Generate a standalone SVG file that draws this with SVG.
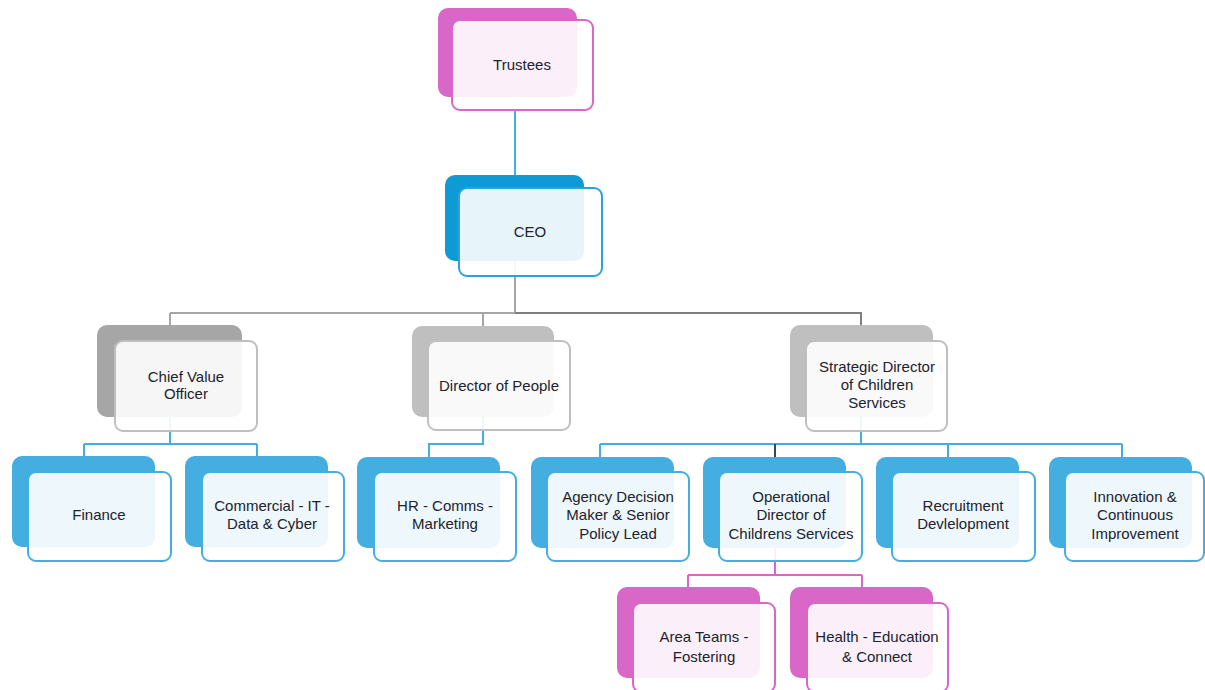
<svg xmlns="http://www.w3.org/2000/svg" width="1205" height="690" viewBox="0 0 1205 690">
<style>
.bg{fill:#ffffff}
.bk{stroke:none}
.fr{fill:#ffffff;fill-opacity:0.9;stroke-width:2}
.pink .bk{fill:#D867C8}
.pink .fr{stroke:#D867C8}
.ceo .bk{fill:#0E9BD5}
.ceo .fr{stroke:#2AA3DB}
.blue .bk{fill:#45AEE0}
.blue .fr{stroke:#45AEE0}
.grey .bk{fill:#BFBFBF}
.grey .fr{stroke:#BFBFBF}
.dgrey .bk{fill:#A6A6A6}
.dgrey .fr{stroke:#BFBFBF}
text{font-family:"Liberation Sans",Arial,sans-serif;font-size:15px;fill:#22222E;text-anchor:middle}
.c{fill:none;stroke-width:2}
.cb{stroke:#45AEE0}
.cg{stroke:#A6A6A6}
.cdg{stroke:#7F7F7F}
.cn{stroke:#2E4A63}
.cp{stroke:#D867C8}
</style>
<rect class="bg" x="0" y="0" width="1205" height="690"/>
<g id="connectors">
<path class="c cb" d="M515,110 V175"/>
<path class="c cg" d="M515,261 V313 M170,313 H515 M170,313 V325 M483,313 V326"/>
<path class="c cdg" d="M515,313 H861 V325"/>
<path class="c cb" d="M170,417 V444 M84,444 H257 M84,444 V456 M257,444 V456"/>
<path class="c cb" d="M483,417 V444 H429 V457"/>
<path class="c cb" d="M861,417 V444 M600,444 H1122 M600,444 V457 M948,444 V457 M1122,444 V457"/>
<path class="c cn" d="M775,444 V457"/>
<path class="c cp" d="M775,547 V575 M688,575 H862 M688,575 V587 M862,575 V587"/>
</g>
<g id="trustees" class="pink">
<rect class="bk" x="438" y="8" width="139" height="89" rx="10"/>
<rect class="fr" x="452" y="20" width="141" height="90" rx="8"/>
<text x="522" y="70">Trustees</text>
</g>
<g id="ceo" class="ceo">
<rect class="bk" x="445" y="175" width="139" height="86" rx="10"/>
<rect class="fr" x="459" y="188" width="143" height="88" rx="8"/>
<text x="530" y="237">CEO</text>
</g>
<g id="chief-value-officer" class="dgrey">
<rect class="bk" x="97" y="325" width="145" height="92" rx="10"/>
<rect class="fr" x="115" y="341" width="142" height="90" rx="8"/>
<text x="186" y="382">Chief Value</text>
<text x="186" y="399">Officer</text>
</g>
<g id="director-of-people" class="grey">
<rect class="bk" x="412" y="326" width="142" height="91" rx="10"/>
<rect class="fr" x="428" y="341" width="142" height="89" rx="8"/>
<text x="499" y="391">Director of People</text>
</g>
<g id="strategic-director" class="grey">
<rect class="bk" x="790" y="325" width="143" height="92" rx="10"/>
<rect class="fr" x="806" y="341" width="141" height="90" rx="8"/>
<text x="877" y="372">Strategic Director</text>
<text x="877" y="390">of Children</text>
<text x="877" y="408">Services</text>
</g>
<g id="finance" class="blue">
<rect class="bk" x="12" y="456" width="143" height="91" rx="10"/>
<rect class="fr" x="28" y="472" width="143" height="89" rx="8"/>
<text x="99" y="520">Finance</text>
</g>
<g id="commercial" class="blue">
<rect class="bk" x="185" y="456" width="143" height="91" rx="10"/>
<rect class="fr" x="202" y="472" width="142" height="89" rx="8"/>
<text x="272" y="511">Commercial - IT -</text>
<text x="272" y="529">Data &amp; Cyber</text>
</g>
<g id="hr" class="blue">
<rect class="bk" x="357" y="457" width="143" height="91" rx="10"/>
<rect class="fr" x="374" y="472" width="142" height="89" rx="8"/>
<text x="445" y="511">HR - Comms -</text>
<text x="445" y="529">Marketing</text>
</g>
<g id="agency-decision-maker" class="blue">
<rect class="bk" x="531" y="457" width="143" height="91" rx="10"/>
<rect class="fr" x="547" y="472" width="142" height="89" rx="8"/>
<text x="618" y="502">Agency Decision</text>
<text x="618" y="520">Maker &amp; Senior</text>
<text x="618" y="539">Policy Lead</text>
</g>
<g id="operational-director" class="blue">
<rect class="bk" x="703" y="457" width="143" height="91" rx="10"/>
<rect class="fr" x="719" y="472" width="143" height="89" rx="8"/>
<text x="791" y="502">Operational</text>
<text x="791" y="520">Director of</text>
<text x="791" y="539">Childrens Services</text>
</g>
<g id="recruitment" class="blue">
<rect class="bk" x="876" y="457" width="143" height="91" rx="10"/>
<rect class="fr" x="892" y="472" width="143" height="89" rx="8"/>
<text x="963" y="511">Recruitment</text>
<text x="963" y="529">Devlelopment</text>
</g>
<g id="innovation" class="blue">
<rect class="bk" x="1049" y="457" width="143" height="91" rx="10"/>
<rect class="fr" x="1065" y="472" width="139" height="89" rx="8"/>
<text x="1135" y="502">Innovation &amp;</text>
<text x="1135" y="520">Continuous</text>
<text x="1135" y="539">Improvement</text>
</g>
<g id="area-teams" class="pink">
<rect class="bk" x="617" y="587" width="143" height="91" rx="10"/>
<rect class="fr" x="633" y="603" width="142" height="89" rx="8"/>
<text x="704" y="642">Area Teams -</text>
<text x="704" y="662">Fostering</text>
</g>
<g id="health-education" class="pink">
<rect class="bk" x="790" y="587" width="143" height="91" rx="10"/>
<rect class="fr" x="807" y="603" width="141" height="89" rx="8"/>
<text x="877" y="642">Health - Education</text>
<text x="877" y="662">&amp; Connect</text>
</g>
</svg>
